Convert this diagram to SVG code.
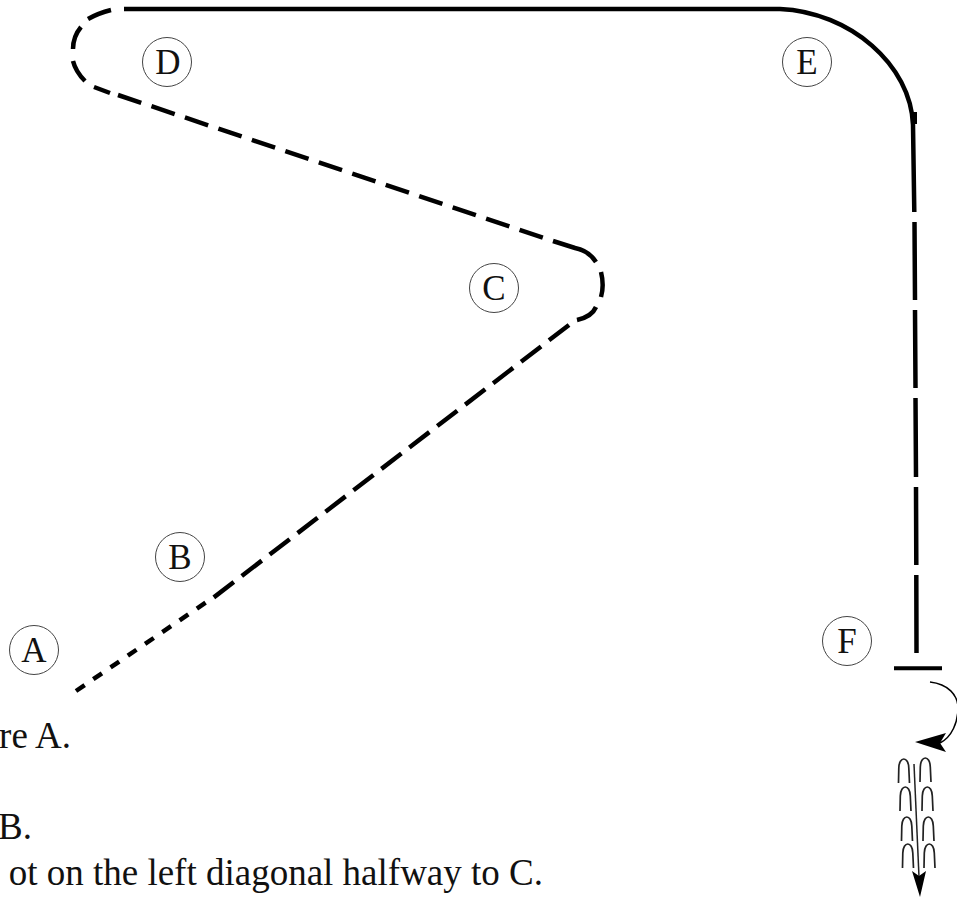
<svg xmlns="http://www.w3.org/2000/svg" width="957" height="897" viewBox="0 0 957 897">
<style>
.p{fill:none;stroke:#000;stroke-width:4.500}
.c{fill:#fff;stroke:#444;stroke-width:1}
.t{font-family:"Liberation Serif",serif;font-size:37px;fill:#111;text-anchor:end}
.l{font-family:"Liberation Serif",serif;font-size:35px;fill:#111;text-anchor:middle}
.s{fill:none;stroke:#222;stroke-width:1.700}
</style>
<defs><path id="u" class="s" d="M0 24L.3 9C.6 -3 10 -3 10.300 9L11 24"/></defs>
<g id="connectors">
<path class="p" stroke-dasharray="10.500 10.400" d="M76 691L208 601"/>
<path class="p" stroke-dasharray="25.200 10" d="M569 325L213 598"/>
<path class="p" d="M577 320C586 318 593 314 596 307M601 272C603 280 603 290 601 297M553 241L575 248C585 250 591 254 596 262"/>
<path class="p" stroke-dasharray="24.500 10.800" d="M118 95L553 241"/>
<path class="p" d="M94 87L110 93M73 61C75 69 79 75 85 81M81 27C76 33 73 41 73 49M111 10C103 12 95 15 88 19"/>
<path class="p" d="M124 9H780C850 12 911 65 913 125L914.300 212"/>
<rect x="912" y="112" width="5" height="12"/>
<path class="p" d="M914.500 222L915 300M915 310L915.500 388M915.500 398L916 477M916 487L916.300 565M916.300 575L916.500 653"/>
<path d="M894 668.300H942" stroke="#000" stroke-width="4"/>
<path fill="none" stroke="#000" stroke-width="1.500" d="M930 682C948 684 958 695 958 708C958 722 952 737 940 743"/>
<path d="M915 742L946 733L940 743L946 752Z"/>
<path d="M914 764L919 877" stroke="#222" stroke-width="1.500" fill="none"/>
<path d="M912 871L919 876L926 871L920 897Z"/>
</g>
<g id="feathers">
<use href="#u" x="898.500" y="759"/><use href="#u" x="920" y="758"/>
<use href="#u" x="900" y="787"/><use href="#u" x="922" y="787"/>
<use href="#u" x="901.500" y="817"/><use href="#u" x="923" y="817"/>
<use href="#u" x="902.500" y="844"/><use href="#u" x="924" y="844"/>
</g>
<g id="A"><circle class="c" cx="34" cy="650" r="24.500"/><text class="l" x="34" y="662">A</text></g>
<g id="B"><circle class="c" cx="180" cy="557" r="24.500"/><text class="l" x="180" y="569">B</text></g>
<g id="C"><circle class="c" cx="494" cy="288" r="24.500"/><text class="l" x="494" y="300">C</text></g>
<g id="D"><circle class="c" cx="167" cy="62" r="24.500"/><text class="l" x="168" y="74">D</text></g>
<g id="E"><circle class="c" cx="807" cy="62" r="24.500"/><text class="l" x="807" y="74">E</text></g>
<g id="F"><circle class="c" cx="847" cy="641" r="24.500"/><text class="l" x="847" y="653">F</text></g>
<g id="notes">
<text class="t" x="71" y="748">re A.</text>
<text class="t" x="32" y="839">B.</text>
<text class="t" x="543" y="885">ot on the left diagonal halfway to C.</text>
</g>
</svg>
